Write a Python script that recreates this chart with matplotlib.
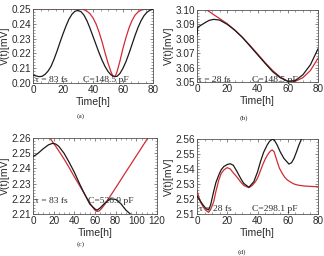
import matplotlib
matplotlib.use("Agg")
import matplotlib.pyplot as plt
from matplotlib.ticker import MultipleLocator, AutoMinorLocator

# ---------------- data ----------------
# panel (a)
ta_black = [0, 2, 4, 6, 8, 10, 12, 14, 16, 18, 20, 22, 24, 26, 28, 30, 32, 34, 36, 38, 40,
            42, 44, 46, 48, 50, 52, 54, 56, 58, 60, 62, 64, 66, 68, 70, 72, 74, 76, 78, 80]
va_black = [0.2054, 0.2048, 0.2043, 0.2045, 0.2058, 0.2080, 0.2112, 0.2160, 0.2215, 0.2275,
            0.2332, 0.2385, 0.2432, 0.2465, 0.2485, 0.2490, 0.2482, 0.2458, 0.2420, 0.2370,
            0.2315, 0.2260, 0.2205, 0.2155, 0.2112, 0.2078, 0.2055, 0.2043, 0.2045, 0.2065,
            0.2100, 0.2145, 0.2200, 0.2260, 0.2320, 0.2375, 0.2420, 0.2455, 0.2478, 0.2492, 0.2498]
ta_red = [0, 10, 20, 30, 32, 34, 36, 38, 40, 42, 44, 46, 48, 50, 52, 53, 54, 55, 56, 58,
          60, 62, 64, 66, 68, 70, 72, 74, 76, 80]
va_red = [0.2500, 0.2500, 0.2500, 0.2500, 0.2500, 0.2495, 0.2485, 0.2468, 0.2440, 0.2400,
          0.2345, 0.2280, 0.2205, 0.2135, 0.2075, 0.2052, 0.2043, 0.2050, 0.2075, 0.2150,
          0.2235, 0.2308, 0.2372, 0.2422, 0.2458, 0.2480, 0.2492, 0.2497, 0.2500, 0.2500]

# panel (b)
tb_black = [0, 0.5, 2, 5, 8, 11, 15, 20, 25, 30, 35, 40, 45, 50, 55, 60, 65, 70, 75, 80]
vb_black = [3.0830, 3.0880, 3.0890, 3.0910, 3.0928, 3.0935, 3.0930, 3.0900, 3.0860, 3.0810,
            3.0750, 3.0690, 3.0630, 3.0572, 3.0530, 3.0505, 3.0510, 3.0550, 3.0620, 3.0730]
tb_red = [5, 6.5, 10, 15, 20, 25, 30, 35, 40, 45, 50, 55, 60, 62, 65, 70, 75, 80]
vb_red = [3.1012, 3.1000, 3.0975, 3.0940, 3.0905, 3.0860, 3.0810, 3.0755, 3.0695, 3.0635,
          3.0580, 3.0535, 3.0505, 3.0500, 3.0505, 3.0530, 3.0580, 3.0665]

# panel (c)
tc_black = [0, 2, 5, 10, 15, 19, 22, 25, 30, 35, 40, 45, 50, 55, 60, 62, 65, 70, 75, 80, 85, 90, 95]
vc_black = [2.2480, 2.2485, 2.2500, 2.2530, 2.2555, 2.2565, 2.2560, 2.2545, 2.2500, 2.2440,
            2.2375, 2.2300, 2.2230, 2.2165, 2.2133, 2.2125, 2.2140, 2.2175, 2.2200, 2.2196,
            2.2168, 2.2125, 2.2095]
tc_red = [15, 20, 25, 30, 35, 40, 45, 50, 55, 58, 60, 62, 64, 66, 70, 75, 80, 85, 90, 95,
          100, 105, 110, 112]
vc_red = [2.2612, 2.2565, 2.2515, 2.2462, 2.2405, 2.2345, 2.2288, 2.2230, 2.2172, 2.2142,
          2.2125, 2.2117, 2.2120, 2.2133, 2.2168, 2.2220, 2.2272, 2.2325, 2.2378, 2.2430,
          2.2483, 2.2535, 2.2588, 2.2610]

# panel (d)
td_black = [0, 2, 4, 6, 7.7, 9, 11, 12.5, 14.4, 16, 17.7, 20, 22, 24, 26.5, 29, 30.9, 34.3,
            37.6, 40, 42, 44, 46.4, 48, 49.7, 51, 53, 55, 57.5, 60.8, 62.5, 64.1, 66, 67.4, 69, 70]
vd_black = [2.5220, 2.5190, 2.5160, 2.5135, 2.5127, 2.5160, 2.5249, 2.5310, 2.5360, 2.5395,
            2.5416, 2.5430, 2.5435, 2.5425, 2.5382, 2.5335, 2.5304, 2.5278, 2.5316, 2.5380,
            2.5450, 2.5510, 2.5560, 2.5585, 2.5598, 2.5595, 2.5560, 2.5515, 2.5470, 2.5433,
            2.5442, 2.5470, 2.5520, 2.5560, 2.5598, 2.5620]
td_red = [0, 2.2, 4, 5.5, 7.7, 9, 11, 12.5, 14.4, 16, 17.7, 19.9, 22, 24.3, 26.5, 28.7, 31,
          34.3, 36.5, 38.7, 40.5, 42, 43.5, 45.3, 47, 48.6, 49.7, 51, 53, 54.5, 56.4, 58,
          59.7, 62, 64.1, 67, 70.7, 75, 79.6]
vd_red = [2.5255, 2.5180, 2.5150, 2.5127, 2.5111, 2.5130, 2.5180, 2.5250, 2.5327, 2.5370,
          2.5393, 2.5409, 2.5400, 2.5371, 2.5345, 2.5316, 2.5290, 2.5276, 2.5290, 2.5316,
          2.5350, 2.5390, 2.5430, 2.5470, 2.5500, 2.5520, 2.5527, 2.5515, 2.5450, 2.5405,
          2.5370, 2.5345, 2.5327, 2.5312, 2.5300, 2.5292, 2.5287, 2.5284, 2.5282]

panels = [
    dict(tb=ta_black, vb=va_black, tr=ta_red, vr=va_red, xlim=(0, 80), ylim=(0.20, 0.25),
         xstep=20, ystep=0.01, yfmt="{:.2f}", tau="τ = 83 fs", cap="C=148.5 pF", label="(a)"),
    dict(tb=tb_black, vb=vb_black, tr=tb_red, vr=vb_red, xlim=(0, 80), ylim=(3.05, 3.10),
         xstep=20, ystep=0.01, yfmt="{:.2f}", tau="τ = 28 fs", cap="C=148.5 pF", label="(b)"),
    dict(tb=tc_black, vb=vc_black, tr=tc_red, vr=vc_red, xlim=(0, 120), ylim=(2.21, 2.26),
         xstep=20, ystep=0.01, yfmt="{:.2f}", tau="τ = 83 fs", cap="C=526.9 pF", label="(c)"),
    dict(tb=td_black, vb=vd_black, tr=td_red, vr=vd_red, xlim=(0, 80), ylim=(2.51, 2.56),
         xstep=20, ystep=0.01, yfmt="{:.2f}", tau="τ = 28 fs", cap="C=298.1 pF", label="(d)"),
]

# axes rectangles in pixels: left, right, top, bottom
W, H = 324, 256
rects = [(33, 153, 9, 83), (197, 318, 10, 82), (33, 157, 138, 214), (197, 318, 139, 214)]
cap_pos = [(81, 116), (244, 118), (81, 244), (242, 252)]
tau_x = [(35, 83), (198, 252), (35, 88), (199, 252)]
text_base = [82, 81.5, 203, 211]

fig = plt.figure(figsize=(W / 100, H / 100), dpi=100)
fig.patch.set_facecolor("white")

sans = ["Liberation Sans", "DejaVu Sans"]
serif = ["Liberation Serif", "DejaVu Serif"]
frame_col = "#555555"
txt_col = "#2a2a2a"

for p, (l, r, t, b), (cx, cy), (txa, txc), ty in zip(panels, rects, cap_pos, tau_x, text_base):
    ax = fig.add_axes([l / W, 1 - b / H, (r - l) / W, (b - t) / H])
    ax.plot(p["tb"], p["vb"], color="#1a1a1a", lw=0.9, zorder=3)
    ax.plot(p["tr"], p["vr"], color="#d32a35", lw=0.9, zorder=2)
    ax.set_xlim(*p["xlim"])
    ax.set_ylim(*p["ylim"])
    ax.xaxis.set_major_locator(MultipleLocator(p["xstep"]))
    ax.yaxis.set_major_locator(MultipleLocator(p["ystep"]))
    ax.xaxis.set_minor_locator(AutoMinorLocator(4))
    ax.yaxis.set_minor_locator(AutoMinorLocator(5))
    ax.tick_params(which="both", direction="in", top=True, right=True, colors=frame_col,
                   labelcolor=txt_col, labelsize=7.2, pad=1.5)
    ax.tick_params(which="major", length=2.2, width=0.5)
    ax.tick_params(which="minor", length=1.2, width=0.4)
    ax.set_yticks(ax.get_yticks())
    ax.set_yticklabels([p["yfmt"].format(v) for v in ax.get_yticks()], family=sans)
    for lab in ax.get_xticklabels():
        lab.set_family(sans)
    for s in ax.spines.values():
        s.set_color(frame_col)
        s.set_linewidth(0.6)
    ax.set_xlabel("Time[h]", family=sans, fontsize=7.6, color=txt_col, labelpad=1.2)
    ax.set_ylabel("V(t)[mV]", family=sans, fontsize=7.6, color=txt_col, labelpad=1.0)
    ax.set_ylim(*p["ylim"])
    # annotations
    fig.text(txa / W, 1 - ty / H, p["tau"], family=serif, fontsize=6.8, color=txt_col,
             ha="left", va="baseline")
    fig.text(txc / W, 1 - ty / H, p["cap"], family=serif, fontsize=6.8, color=txt_col,
             ha="left", va="baseline")
    fig.text(cx / W, 1 - cy / H, p["label"], family=serif, fontsize=5.3, color=txt_col,
             ha="center", va="center")

fig.savefig("out.png", dpi=100, facecolor="white")
